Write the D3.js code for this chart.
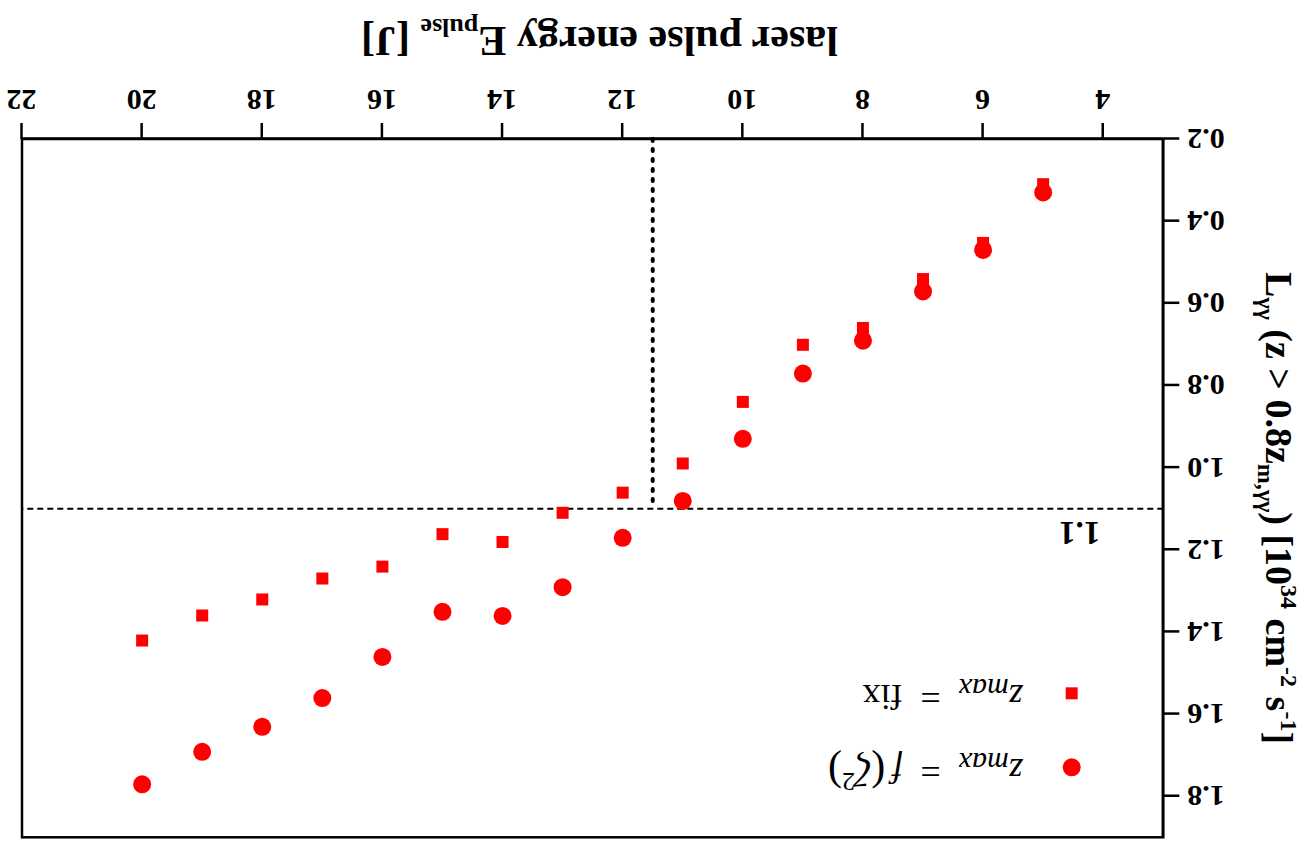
<!DOCTYPE html>
<html>
<head>
<meta charset="utf-8">
<script src="https://cdn.jsdelivr.net/npm/d3@7"></script>
<style>
    body { margin: 0; background: #fff; }
    text { font-family: "Liberation Serif", "Times New Roman", serif; }
</style>
</head>
<body>
<div id="chart"></div>
<script>
// laser pulse energy [J]
var energy = [5, 6, 7, 8, 9, 10, 11, 12, 13, 14, 15, 16, 17, 18, 19, 20];
// z_max = fix (squares)
var lumFix = [0.310, 0.453, 0.541, 0.660, 0.701, 0.840, 0.990, 1.061, 1.110, 1.181, 1.162, 1.241, 1.270, 1.321, 1.360, 1.421];
// z_max = f(zeta^2) (circles)
var lumZeta = [0.330, 0.470, 0.571, 0.691, 0.771, 0.930, 1.081, 1.171, 1.291, 1.361, 1.351, 1.461, 1.561, 1.631, 1.692, 1.771];

var xMajorTicks = [4, 6, 8, 10, 12, 14, 16, 18, 20, 22];
var xMinorTicks = [3, 5, 7, 9, 11, 13, 15, 17, 19, 21];
var yMajorTicks = [0.2, 0.4, 0.6, 0.8, 1.0, 1.2, 1.4, 1.6, 1.8];
var yMinorTicks = [0.3, 0.5, 0.7, 0.9, 1.1, 1.3, 1.5, 1.7, 1.9];

var refLum = 1.1;      // horizontal dashed line
var refEnergy = 11.5;  // vertical dotted line

var W = 1310, H = 850;
var margin = { top: 12.7, right: 22, bottom: 139, left: 146.7 };

var svg = d3.select("#chart")
    .append("svg")
    .attr("width", W)
    .attr("height", H);

// the whole figure is shown turned upside down
var g = svg.append("g")
    .attr("transform", "rotate(180," + W / 2 + "," + H / 2 + ")");

var x = d3.scaleLinear().domain([3, 22]).range([margin.left, W - margin.right]);
var y = d3.scaleLinear().domain([0.2, 1.9]).range([H - margin.bottom, margin.top]);

// frame
g.append("rect")
    .attr("x", x(3))
    .attr("y", y(1.9))
    .attr("width", x(22) - x(3))
    .attr("height", y(0.2) - y(1.9))
    .attr("fill", "none")
    .attr("stroke", "#000")
    .attr("stroke-width", 2.5);

// x axis
var xAxisG = g.append("g").attr("transform", "translate(0," + y(0.2) + ")");
xAxisG.call(d3.axisBottom(x).tickValues(xMinorTicks).tickSize(9).tickSizeOuter(0).tickFormat(""));
xAxisG.call(d3.axisBottom(x).tickValues(xMajorTicks).tickSize(16).tickSizeOuter(0).tickPadding(12).tickFormat(d3.format("d")));

// y axis
var yAxisG = g.append("g").attr("transform", "translate(" + x(3) + ",0)");
yAxisG.call(d3.axisLeft(y).tickValues(yMinorTicks).tickSize(8).tickSizeOuter(0).tickFormat(""));
yAxisG.call(d3.axisLeft(y).tickValues(yMajorTicks).tickSize(16).tickSizeOuter(0).tickPadding(8).tickFormat(d3.format(".1f")));

g.selectAll(".domain").attr("stroke-width", 2.5);
g.selectAll(".tick line").attr("stroke-width", 2.5);
g.selectAll(".tick text")
    .attr("font-family", "'Liberation Serif', 'Times New Roman', serif")
    .attr("font-size", 30)
    .attr("font-weight", "bold")
    .attr("fill", "#000");

// reference lines
g.append("line")
    .attr("x1", x(3)).attr("x2", x(22))
    .attr("y1", y(refLum)).attr("y2", y(refLum))
    .attr("stroke", "#000")
    .attr("stroke-width", 2)
    .attr("stroke-dasharray", "6,4");

g.append("line")
    .attr("x1", x(refEnergy)).attr("x2", x(refEnergy))
    .attr("y1", y(0.2)).attr("y2", y(refLum))
    .attr("stroke", "#000")
    .attr("stroke-width", 4)
    .attr("stroke-linecap", "round")
    .attr("stroke-dasharray", "2,8");

g.append("text")
    .attr("x", x(4.05))
    .attr("y", y(refLum) - 13)
    .attr("font-size", 33)
    .attr("font-weight", "bold")
    .text(refLum.toFixed(1));

// data
var sq = 12;
g.selectAll(".fix")
    .data(energy)
    .enter().append("rect")
    .attr("class", "fix")
    .attr("x", function (d) { return x(d) - sq / 2; })
    .attr("y", function (d, i) { return y(lumFix[i]) - sq / 2; })
    .attr("width", sq)
    .attr("height", sq)
    .attr("fill", "#ff0000");

g.selectAll(".zeta")
    .data(energy)
    .enter().append("circle")
    .attr("class", "zeta")
    .attr("cx", function (d) { return x(d); })
    .attr("cy", function (d, i) { return y(lumZeta[i]); })
    .attr("r", 9)
    .attr("fill", "#ff0000");

// axis titles
var xTitle = g.append("text")
    .attr("x", 472)
    .attr("y", 823)
    .attr("font-size", 42)
    .attr("font-weight", "bold");
xTitle.append("tspan").text("laser pulse energy E");
xTitle.append("tspan").attr("font-size", 26).attr("dy", 8).text("pulse");
xTitle.append("tspan").attr("dy", -8).text(" [J]");

var yTitle = g.append("text")
    .attr("transform", "translate(44,342) rotate(-90)")
    .attr("text-anchor", "middle")
    .attr("font-size", 38)
    .attr("font-weight", "bold");
yTitle.append("tspan").text("L");
yTitle.append("tspan").attr("font-size", 24).attr("dy", 8).text("\u03b3\u03b3");
yTitle.append("tspan").attr("dy", -8).text(" (z > 0.8z");
yTitle.append("tspan").attr("font-size", 24).attr("dy", 8).text("m,\u03b3\u03b3");
yTitle.append("tspan").attr("dy", -8).text(") [10");
yTitle.append("tspan").attr("font-size", 24).attr("dy", -15).text("34");
yTitle.append("tspan").attr("dy", 15).text(" cm");
yTitle.append("tspan").attr("font-size", 24).attr("dy", -15).text("-2");
yTitle.append("tspan").attr("dy", 15).text(" s");
yTitle.append("tspan").attr("font-size", 24).attr("dy", -15).text("-1");
yTitle.append("tspan").attr("dy", 15).text("]");

// legend
var legendX = 238.3;
var legendRows = [
    { y: 82.7, kind: "circle" },
    { y: 156.7, kind: "square" }
];

legendRows.forEach(function (row) {
    if (row.kind === "circle") {
        g.append("circle").attr("cx", legendX).attr("cy", row.y).attr("r", 9).attr("fill", "#ff0000");
    } else {
        g.append("rect").attr("x", legendX - sq / 2).attr("y", row.y - sq / 2)
            .attr("width", sq).attr("height", sq).attr("fill", "#ff0000");
    }
    var t = g.append("text")
        .attr("x", legendX + 49)
        .attr("y", row.y + 8)
        .attr("font-size", 36);
    t.append("tspan").attr("font-style", "italic").text("z");
    t.append("tspan").attr("font-style", "italic").attr("font-size", 30).attr("dy", 6).text("max");
    t.append("tspan").attr("dy", -6).text("\u2002=\u2002");
    if (row.kind === "circle") {
        t.append("tspan").attr("font-style", "italic").text("f\u2009");
        t.append("tspan").attr("font-size", 42).text("(");
        t.append("tspan").attr("font-style", "italic").attr("font-size", 40).text("\u03b6");
        t.append("tspan").attr("font-size", 26).attr("dy", -14).text("2");
        t.append("tspan").attr("font-size", 42).attr("dy", 14).text(")");
    } else {
        t.append("tspan").text("fix");
    }
});
</script>
</body>
</html>
